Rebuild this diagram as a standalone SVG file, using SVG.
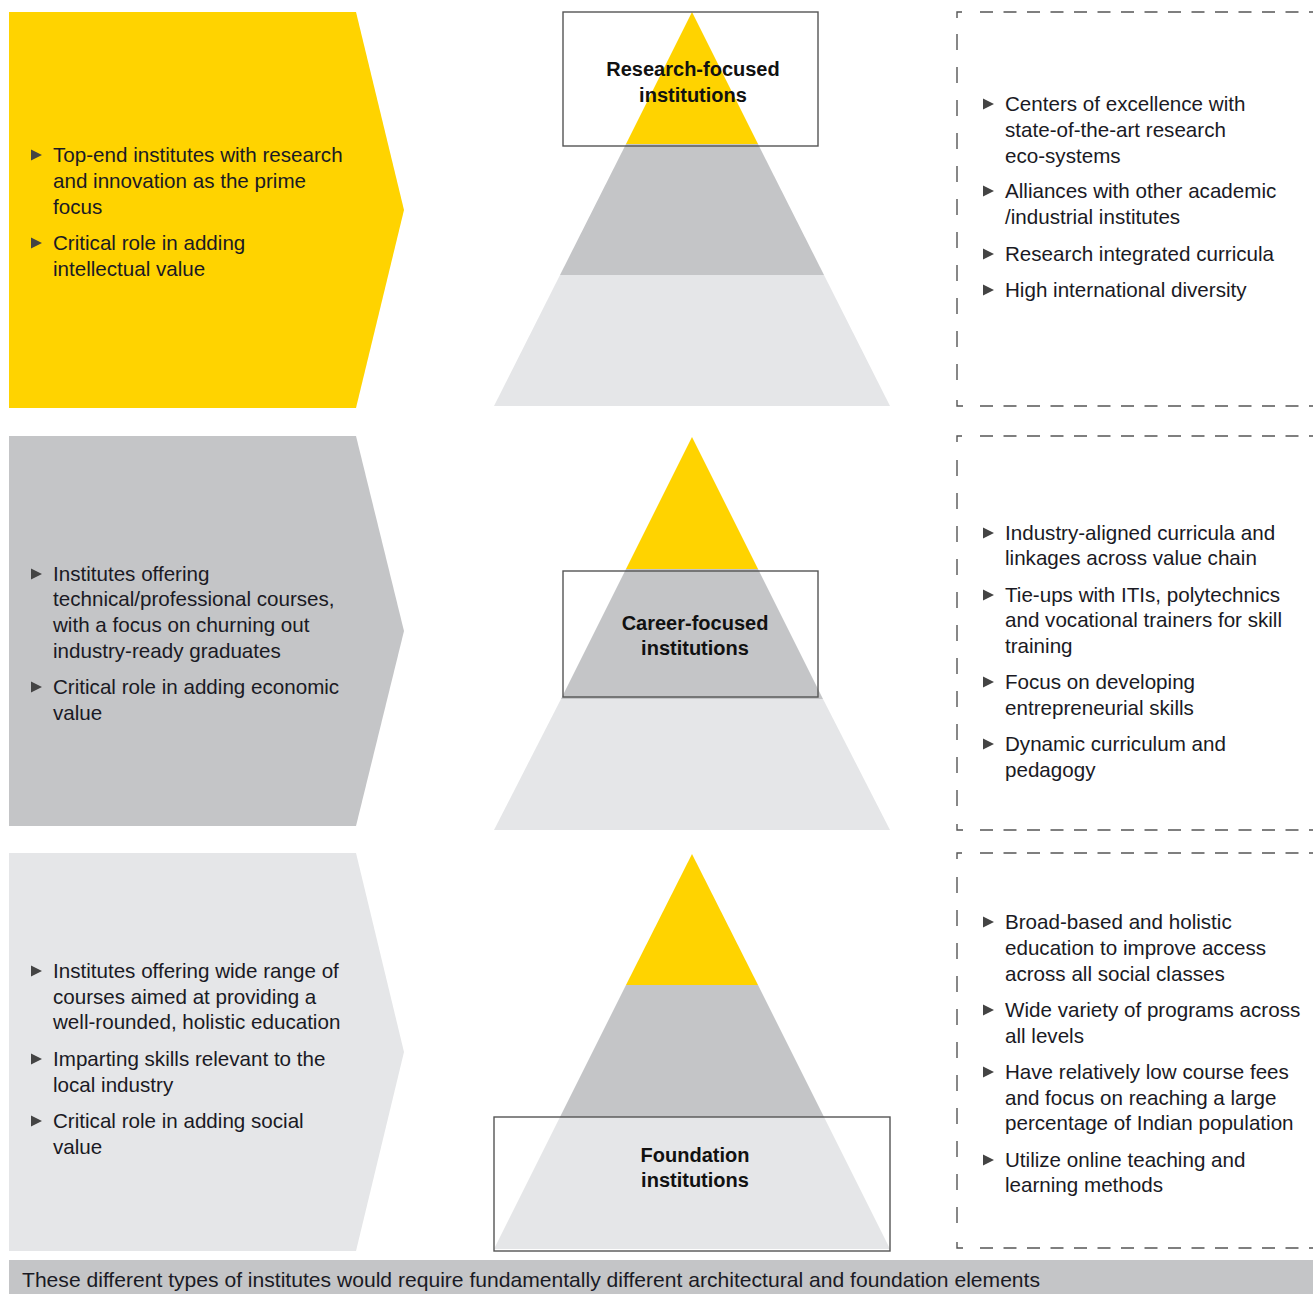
<svg xmlns="http://www.w3.org/2000/svg" width="1313" height="1294" viewBox="0 0 1313 1294">
  <style>
    .txt { font-family: "Liberation Sans", Arial, sans-serif; font-size: 20.6px; fill: #1a1a24; }
    .lbl { font-family: "Liberation Sans", Arial, sans-serif; font-size: 20px; font-weight: bold; fill: #111; text-anchor: middle; }
    .bul { fill: #444; }
    .yel { fill: #ffd300; }
    .mid { fill: #c4c5c7; }
    .lt { fill: #e5e6e8; }
    .frame { fill: none; stroke: #555; stroke-width: 1.4; }
    .dh { fill: none; stroke: #555; stroke-width: 1.4; stroke-dasharray: 13 10.5; }
    .dv { fill: none; stroke: #555; stroke-width: 1.4; stroke-dasharray: 16 17; }
    .corner { fill: none; stroke: #555; stroke-width: 1.4; }
  </style>
  <defs>
    <path id="tri" d="M0,-5.5 L11,0 L0,5.5 Z"/>
  </defs>

  <!-- Left chevron panels -->
  <g id="panel-research">
    <polygon class="yel" points="9,12 356,12 404,210 356,408 9,408"/>
    <use href="#tri" class="bul" x="31" y="155"/>
    <text class="txt" x="53" y="162">Top-end institutes with research</text>
    <text class="txt" x="53" y="188">and innovation as the prime</text>
    <text class="txt" x="53" y="214">focus</text>
    <use href="#tri" class="bul" x="31" y="243"/>
    <text class="txt" x="53" y="250">Critical role in adding</text>
    <text class="txt" x="53" y="276">intellectual value</text>
  </g>

  <g id="panel-career">
    <polygon class="mid" points="9,436 356,436 404,631 356,826 9,826"/>
    <use href="#tri" class="bul" x="31" y="574"/>
    <text class="txt" x="53" y="581">Institutes offering</text>
    <text class="txt" x="53" y="606">technical/professional courses,</text>
    <text class="txt" x="53" y="632">with a focus on churning out</text>
    <text class="txt" x="53" y="658">industry-ready graduates</text>
    <use href="#tri" class="bul" x="31" y="687"/>
    <text class="txt" x="53" y="694">Critical role in adding economic</text>
    <text class="txt" x="53" y="720">value</text>
  </g>

  <g id="panel-foundation">
    <polygon class="lt" points="9,853 356,853 404,1052 356,1251 9,1251"/>
    <use href="#tri" class="bul" x="31" y="971"/>
    <text class="txt" x="53" y="978">Institutes offering wide range of</text>
    <text class="txt" x="53" y="1004">courses aimed at providing a</text>
    <text class="txt" x="53" y="1029">well-rounded, holistic education</text>
    <use href="#tri" class="bul" x="31" y="1059"/>
    <text class="txt" x="53" y="1066">Imparting skills relevant to the</text>
    <text class="txt" x="53" y="1092">local industry</text>
    <use href="#tri" class="bul" x="31" y="1121"/>
    <text class="txt" x="53" y="1128">Critical role in adding social</text>
    <text class="txt" x="53" y="1154">value</text>
  </g>

  <!-- Pyramids -->
  <g id="pyramid-research">
    <polygon class="yel" points="692,12 758,144 626,144"/>
    <polygon class="mid" points="626,144 758,144 824,275 560,275"/>
    <polygon class="lt" points="560,275 824,275 890,406 494,406"/>
    <rect class="frame" x="563" y="12" width="255" height="134"/>
    <text class="lbl" x="693" y="76">Research-focused</text>
    <text class="lbl" x="693" y="102">institutions</text>
  </g>

  <g id="pyramid-career">
    <polygon class="yel" points="692,437 758,569 626,569"/>
    <polygon class="mid" points="626,569 758,569 823,699 561,699"/>
    <polygon class="lt" points="561,699 823,699 890,830 494,830"/>
    <rect class="frame" x="563" y="571" width="255" height="126"/>
    <text class="lbl" x="695" y="630">Career-focused</text>
    <text class="lbl" x="695" y="655">institutions</text>
  </g>

  <g id="pyramid-foundation">
    <polygon class="yel" points="692,854 758,985 626,985"/>
    <polygon class="mid" points="626,985 758,985 824,1117 560,1117"/>
    <polygon class="lt" points="560,1117 824,1117 890,1249 494,1249"/>
    <rect class="frame" x="494" y="1117" width="396" height="134"/>
    <text class="lbl" x="695" y="1162">Foundation</text>
    <text class="lbl" x="695" y="1187">institutions</text>
  </g>

  <!-- Right dashed feature boxes -->
  <g id="features-research">
    <path class="corner" d="M962,12 H957 V18 M957,400 V406 H963"/>
    <path class="dh" d="M980,12 H1313 M980,406 H1313"/>
    <path class="dv" d="M957,34 V396"/>
    <use href="#tri" class="bul" x="983" y="104"/>
    <text class="txt" x="1005" y="111">Centers of excellence with</text>
    <text class="txt" x="1005" y="137">state-of-the-art research</text>
    <text class="txt" x="1005" y="163">eco-systems</text>
    <use href="#tri" class="bul" x="983" y="191"/>
    <text class="txt" x="1005" y="198">Alliances with other academic</text>
    <text class="txt" x="1005" y="224">/industrial institutes</text>
    <use href="#tri" class="bul" x="983" y="254"/>
    <text class="txt" x="1005" y="261">Research integrated curricula</text>
    <use href="#tri" class="bul" x="983" y="290"/>
    <text class="txt" x="1005" y="297">High international diversity</text>
  </g>

  <g id="features-career">
    <path class="corner" d="M962,436 H957 V442 M957,824 V830 H963"/>
    <path class="dh" d="M980,436 H1313 M980,830 H1313"/>
    <path class="dv" d="M957,460 V820"/>
    <use href="#tri" class="bul" x="983" y="533"/>
    <text class="txt" x="1005" y="540">Industry-aligned curricula and</text>
    <text class="txt" x="1005" y="565">linkages across value chain</text>
    <use href="#tri" class="bul" x="983" y="595"/>
    <text class="txt" x="1005" y="602">Tie-ups with ITIs, polytechnics</text>
    <text class="txt" x="1005" y="627">and vocational trainers for skill</text>
    <text class="txt" x="1005" y="653">training</text>
    <use href="#tri" class="bul" x="983" y="682"/>
    <text class="txt" x="1005" y="689">Focus on developing</text>
    <text class="txt" x="1005" y="715">entrepreneurial skills</text>
    <use href="#tri" class="bul" x="983" y="744"/>
    <text class="txt" x="1005" y="751">Dynamic curriculum and</text>
    <text class="txt" x="1005" y="777">pedagogy</text>
  </g>

  <g id="features-foundation">
    <path class="corner" d="M962,853 H957 V859 M957,1242 V1248 H963"/>
    <path class="dh" d="M980,853 H1313 M980,1248 H1313"/>
    <path class="dv" d="M957,877 V1238"/>
    <use href="#tri" class="bul" x="983" y="922"/>
    <text class="txt" x="1005" y="929">Broad-based and holistic</text>
    <text class="txt" x="1005" y="955">education to improve access</text>
    <text class="txt" x="1005" y="981">across all social classes</text>
    <use href="#tri" class="bul" x="983" y="1010"/>
    <text class="txt" x="1005" y="1017">Wide variety of programs across</text>
    <text class="txt" x="1005" y="1043">all levels</text>
    <use href="#tri" class="bul" x="983" y="1072"/>
    <text class="txt" x="1005" y="1079">Have relatively low course fees</text>
    <text class="txt" x="1005" y="1105">and focus on reaching a large</text>
    <text class="txt" x="1005" y="1130">percentage of Indian population</text>
    <use href="#tri" class="bul" x="983" y="1160"/>
    <text class="txt" x="1005" y="1167">Utilize online teaching and</text>
    <text class="txt" x="1005" y="1192">learning methods</text>
  </g>

  <!-- Footer banner -->
  <g id="footer">
    <rect class="mid" x="9" y="1260" width="1304" height="34"/>
    <text class="txt" x="22" y="1287" textLength="1018" lengthAdjust="spacingAndGlyphs">These different types of institutes would require fundamentally different architectural and foundation elements</text>
  </g>

  <g id="connectors"/>
</svg>
